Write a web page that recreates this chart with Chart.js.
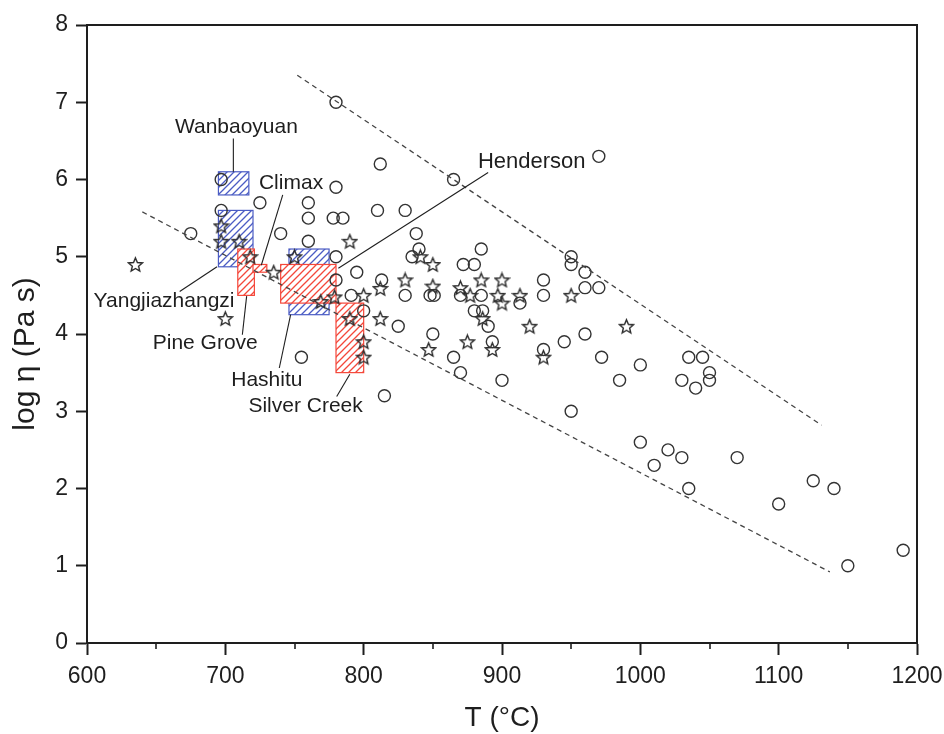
<!DOCTYPE html>
<html>
<head>
<meta charset="utf-8">
<script src="https://cdn.jsdelivr.net/npm/chart.js@4.4.1/dist/chart.umd.min.js"></script>
<style>
  html, body { margin: 0; padding: 0; background: #fff; }
  #wrap { width: 944px; height: 734px; }
</style>
</head>
<body>
<div id="wrap"><canvas id="c" width="944" height="734"></canvas></div>
<script>
// open circles : melt T (°C) vs log viscosity
const circleT = [675, 697, 697, 725, 740, 760, 760, 778, 785, 760, 780, 780, 780, 755, 795, 780, 791, 800,
  812, 810, 830, 813, 815, 825, 838, 840, 835, 830, 848, 851, 850, 865, 872, 880, 885, 870, 885, 880, 886,
  890, 913, 930, 930, 950, 950, 960, 960, 970, 970, 960, 945, 893, 865, 870, 900, 930, 972, 985, 950,
  1000, 1035, 1045, 1050, 1050, 1030, 1040, 1000, 1020, 1030, 1010, 1070, 1035, 1125, 1140, 1100, 1150, 1190];
const circleLogEta = [5.3, 6.0, 5.6, 5.7, 5.3, 5.7, 5.5, 5.5, 5.5, 5.2, 7.0, 5.9, 5.0, 3.7, 4.8, 4.7, 4.5, 4.3,
  6.2, 5.6, 5.6, 4.7, 3.2, 4.1, 5.3, 5.1, 5.0, 4.5, 4.5, 4.5, 4.0, 6.0, 4.9, 4.9, 5.1, 4.5, 4.5, 4.3, 4.3,
  4.1, 4.4, 4.7, 4.5, 5.0, 4.9, 4.8, 4.6, 4.6, 6.3, 4.0, 3.9, 3.9, 3.7, 3.5, 3.4, 3.8, 3.7, 3.4, 3.0,
  3.6, 3.7, 3.7, 3.5, 3.4, 3.4, 3.3, 2.6, 2.5, 2.4, 2.3, 2.4, 2.0, 2.1, 2.0, 1.8, 1.0, 1.2];

// open stars
const starT = [635, 697, 697, 710, 718, 700, 735, 750, 790, 769, 779, 800, 790, 800, 800, 812, 812, 830,
  841, 850, 850, 847, 870, 875, 877, 885, 886, 893, 897, 900, 900, 913, 920, 930, 950, 990];
const starLogEta = [4.9, 5.4, 5.2, 5.2, 5.0, 4.2, 4.8, 5.0, 5.2, 4.42, 4.48, 4.5, 4.2, 3.9, 3.7, 4.59, 4.2, 4.7,
  5.0, 4.9, 4.62, 3.8, 4.6, 3.9, 4.5, 4.7, 4.2, 3.8, 4.5, 4.7, 4.4, 4.5, 4.1, 3.7, 4.5, 4.1];

// dashed envelope lines
const upperLineT = [752, 1131];
const upperLineLogEta = [7.35, 2.82];
const lowerLineT = [640, 1137];
const lowerLineLogEta = [5.58, 0.92];

// deposit ranges (hatched boxes)
const depositNames = ['Wanbaoyuan', 'Yangjiazhangzi', 'Hashitu', 'Pine Grove', 'Climax', 'Henderson', 'Silver Creek'];
const depositRegion = ['China', 'China', 'China', 'USA', 'USA', 'USA', 'USA'];
const depositTMin = [695, 695, 746, 709, 720, 740, 780];
const depositTMax = [717, 720, 775, 721, 730, 780, 800];
const depositLogMin = [5.8, 4.87, 4.25, 4.5, 4.8, 4.4, 3.5];
const depositLogMax = [6.1, 5.6, 5.1, 5.1, 4.9, 4.9, 4.4];

// axis ranges
const xMin = 600, xMax = 1200, xStep = 100;
const yMin = 0, yMax = 8, yStep = 1;

// callout text spot + leader line, in data units
const callouts = [
  { name: 'Wanbaoyuan', tx: 708, ty: 6.68, x1: 705.8, y1: 6.53, x2: 705.8, y2: 6.1 },
  { name: 'Climax', tx: 747.5, ty: 5.95, x1: 741.5, y1: 5.8, x2: 726, y2: 4.89 },
  { name: 'Yangjiazhangzi', tx: 655.7, ty: 4.43, x1: 667, y1: 4.55, x2: 694, y2: 4.87 },
  { name: 'Pine Grove', tx: 685.5, ty: 3.88, x1: 712.3, y1: 3.99, x2: 715.4, y2: 4.49 },
  { name: 'Hashitu', tx: 730, ty: 3.4, x1: 739, y1: 3.56, x2: 747.2, y2: 4.25 },
  { name: 'Silver Creek', tx: 758, ty: 3.06, x1: 780.5, y1: 3.19, x2: 790, y2: 3.48 },
  { name: 'Henderson', tx: 921.5, ty: 6.23, x1: 890, y1: 6.09, x2: 781.7, y2: 4.85, size: 22 }
];

const FONT = '"Liberation Sans", Arial, sans-serif';
const INK = '#1e1e1e';
const regionColor = { China: '#4b5cc4', USA: '#f4473a' };
const yTitle = 'log η (Pa s)';

function pairs(xs, ys) {
  return xs.map((x, i) => ({ x: x, y: ys[i] }));
}

function makeStar(size, color) {
  const c = document.createElement('canvas');
  c.width = c.height = size;
  const g = c.getContext('2d');
  const cx = size / 2, cy = size / 2 + 0.7, R = size / 2 - 1.2, r = R * 0.45;
  g.beginPath();
  for (let i = 0; i < 10; i++) {
    const a = -Math.PI / 2 + i * Math.PI / 5;
    const rad = i % 2 === 0 ? R : r;
    g.lineTo(cx + rad * Math.cos(a), cy + rad * Math.sin(a));
  }
  g.closePath();
  g.strokeStyle = color;
  g.lineWidth = 1.4;
  g.stroke();
  return c;
}

function makeHatch(ctx, color) {
  const s = 7;
  const c = document.createElement('canvas');
  c.width = c.height = s;
  const g = c.getContext('2d');
  g.fillStyle = '#fff';
  g.fillRect(0, 0, s, s);
  g.strokeStyle = color;
  g.lineWidth = 1.3;
  g.beginPath();
  g.moveTo(0, s); g.lineTo(s, 0);
  g.moveTo(-s / 2, s / 2); g.lineTo(s / 2, -s / 2);
  g.moveTo(s / 2, s * 1.5); g.lineTo(s * 1.5, s / 2);
  g.stroke();
  return ctx.createPattern(c, 'repeat');
}

// hatched deposit boxes, under the points
const boxPlugin = {
  id: 'boxes',
  beforeDatasetsDraw(chart) {
    const { ctx, scales: { x, y } } = chart;
    ctx.save();
    ['China', 'USA'].forEach(region => {
      const pat = makeHatch(ctx, regionColor[region]);
      depositNames.forEach((n, i) => {
        if (depositRegion[i] !== region) return;
        const l = x.getPixelForValue(depositTMin[i]);
        const r = x.getPixelForValue(depositTMax[i]);
        const t = y.getPixelForValue(depositLogMax[i]);
        const b = y.getPixelForValue(depositLogMin[i]);
        ctx.fillStyle = pat;
        ctx.fillRect(l, t, r - l, b - t);
        ctx.strokeStyle = regionColor[region];
        ctx.lineWidth = 1.2;
        ctx.strokeRect(l, t, r - l, b - t);
      });
    });
    ctx.restore();
  }
};

// leader lines, names, frame, minor ticks, y title
const decoPlugin = {
  id: 'deco',
  afterDatasetsDraw(chart) {
    const { ctx, scales: { x, y } } = chart;
    ctx.save();
    ctx.strokeStyle = INK;
    ctx.lineWidth = 1.1;
    ctx.fillStyle = INK;
    ctx.textAlign = 'center';
    ctx.textBaseline = 'middle';
    callouts.forEach(c => {
      ctx.beginPath();
      ctx.moveTo(x.getPixelForValue(c.x1), y.getPixelForValue(c.y1));
      ctx.lineTo(x.getPixelForValue(c.x2), y.getPixelForValue(c.y2));
      ctx.stroke();
      ctx.font = (c.size || 21) + 'px ' + FONT;
      ctx.fillText(c.name, x.getPixelForValue(c.tx), y.getPixelForValue(c.ty));
    });
    ctx.restore();
  },
  afterDraw(chart) {
    const { ctx, chartArea: a, scales: { x } } = chart;
    ctx.save();
    ctx.strokeStyle = INK;
    ctx.lineWidth = 2;
    ctx.beginPath();
    ctx.moveTo(a.left, a.top); ctx.lineTo(a.right, a.top); ctx.lineTo(a.right, a.bottom);
    ctx.stroke();
    ctx.lineWidth = 1.6;
    for (let v = xMin + xStep / 2; v < xMax; v += xStep) {
      const px = Math.round(x.getPixelForValue(v));
      ctx.beginPath();
      ctx.moveTo(px, a.bottom);
      ctx.lineTo(px, a.bottom + 6);
      ctx.stroke();
    }
    // y axis title, a little below the middle like the original
    ctx.translate(a.left - 61, (a.top + a.bottom) / 2 + 20);
    ctx.rotate(-Math.PI / 2);
    ctx.fillStyle = INK;
    ctx.font = '30px ' + FONT;
    ctx.textAlign = 'center';
    ctx.textBaseline = 'middle';
    ctx.fillText(yTitle, 0, 0);
    ctx.restore();
  }
};

const starImg = makeStar(17, '#2a2a2a');

new Chart(document.getElementById('c'), {
  type: 'scatter',
  data: {
    datasets: [
      {
        label: 'upper',
        type: 'line',
        data: pairs(upperLineT, upperLineLogEta),
        borderColor: '#444',
        borderWidth: 1.3,
        borderDash: [5, 4],
        pointRadius: 0,
        fill: false
      },
      {
        label: 'lower',
        type: 'line',
        data: pairs(lowerLineT, lowerLineLogEta),
        borderColor: '#444',
        borderWidth: 1.3,
        borderDash: [5, 4],
        pointRadius: 0,
        fill: false
      },
      {
        label: 'circles',
        data: pairs(circleT, circleLogEta),
        pointStyle: 'circle',
        pointRadius: 6,
        borderColor: '#333',
        borderWidth: 1.4,
        backgroundColor: 'rgba(0,0,0,0)'
      },
      {
        label: 'stars',
        data: pairs(starT, starLogEta),
        pointStyle: starImg,
        pointRadius: 8
      }
    ]
  },
  options: {
    responsive: false,
    animation: false,
    devicePixelRatio: 1,
    layout: { padding: { top: 25, right: 27, left: 0, bottom: 0 } },
    plugins: { legend: { display: false }, tooltip: { enabled: false } },
    scales: {
      x: {
        type: 'linear',
        min: xMin, max: xMax,
        afterFit: s => { s.height = 91; s.paddingLeft = 0; s.paddingRight = 0; },
        ticks: { stepSize: xStep, color: INK, font: { family: FONT, size: 23 }, padding: 8, maxRotation: 0,
          callback: v => String(v) },
        grid: { drawOnChartArea: false, tickLength: 12, tickWidth: 2, tickColor: INK },
        border: { color: INK, width: 2 },
        title: { display: true, text: 'T (°C)', color: INK, font: { family: FONT, size: 28, lineHeight: 1.1 }, padding: { top: 0, bottom: 0 } }
      },
      y: {
        min: yMin, max: yMax,
        afterFit: s => { s.width = 87; s.paddingTop = 0; s.paddingBottom = 0; },
        ticks: { stepSize: yStep, color: INK, font: { family: FONT, size: 23 }, padding: 8,
          callback: v => String(v) },
        grid: { drawOnChartArea: false, tickLength: 11, tickWidth: 2, tickColor: INK },
        border: { color: INK, width: 2 },
        title: { display: false }
      }
    }
  },
  plugins: [boxPlugin, decoPlugin]
});
</script>
</body>
</html>
